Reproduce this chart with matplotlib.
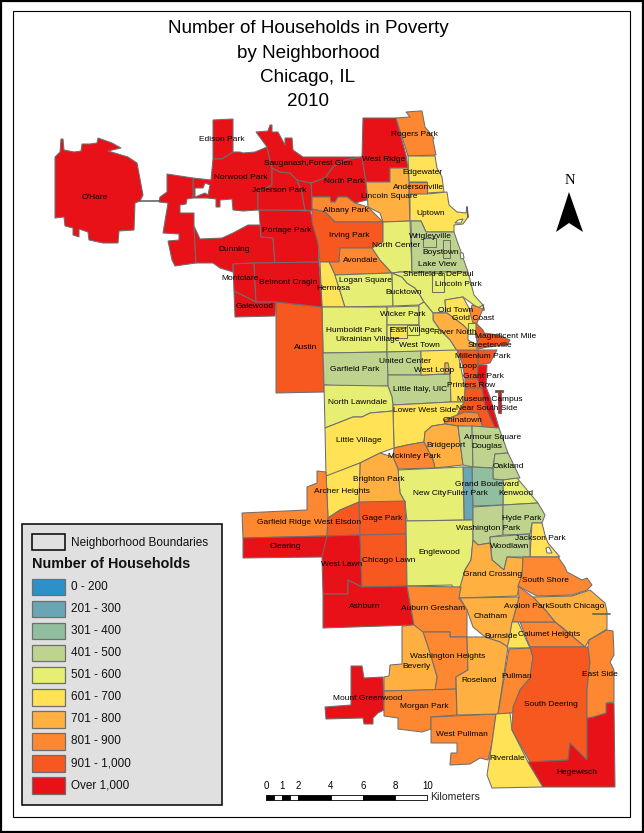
import matplotlib
matplotlib.use("Agg")
import matplotlib.pyplot as plt
from matplotlib.patches import Polygon, Rectangle

plt.rcParams['font.family'] = ['Liberation Sans', 'DejaVu Sans']

title_lines = ["Number of Households in Poverty", "by Neighborhood", "Chicago, IL", "2010"]

class_labels = ["0 - 200", "201 - 300", "301 - 400", "401 - 500", "501 - 600",
                "601 - 700", "701 - 800", "801 - 900", "901 - 1,000", "Over 1,000"]
class_colors = ["#2b91c8", "#6aa5b5", "#92bea0", "#bed48e", "#e6ee73",
                "#ffe255", "#ffb041", "#fe8732", "#f65820", "#e81117"]

# map outlines, one (class, outline) per neighborhood
ohare = (9, [(55, 157), (60, 152), (61, 139), (63, 139), (64, 150), (74, 152), (81, 151), (82, 144), (90, 144),
             (97, 143), (98, 138), (112, 143), (121, 148), (108, 151), (128, 157), (137, 163), (143, 195), (140, 201),
             (135, 203), (134, 230), (119, 231), (118, 243), (103, 243), (89, 240), (88, 232), (79, 229), (79, 237),
             (73, 235), (73, 228), (65, 226), (64, 217), (55, 218), (55, 180)])
edison_park = (9, [(213, 120), (233, 119), (233, 152), (222, 159), (213, 159)])
norwood_park = (9, [(213, 159), (222, 159), (233, 152), (240, 152), (243, 153), (255, 152), (267, 147), (272, 168),
                    (272, 185), (258, 192), (258, 210), (243, 211), (233, 210), (232, 199), (220, 200), (220, 207),
                    (216, 207), (216, 199), (207, 198), (193, 198), (193, 178), (211, 180)])
dunning_west = (9, [(167, 174), (193, 178), (193, 198), (187, 199), (186, 204), (180, 205), (180, 213), (194, 213),
                    (194, 226), (196, 263), (175, 266), (172, 260), (168, 241), (179, 240), (179, 234), (163, 233),
                    (168, 203), (159, 202), (160, 197), (167, 192)])
dunning = (9, [(194, 226), (200, 239), (222, 238), (233, 233), (248, 225), (260, 225), (261, 237), (273, 238),
               (275, 263), (253, 263), (233, 264), (233, 272), (220, 268), (213, 263), (196, 263)])
portage_park = (9, [(259, 210), (285, 210), (310, 211), (318, 235), (319, 262), (275, 263), (273, 238), (261, 237)])
jefferson_park = (9, [(258, 192), (272, 185), (272, 168), (280, 172), (290, 173), (297, 180), (302, 193), (305, 210),
                      (285, 210), (258, 210)])
jefferson_east = (9, [(297, 180), (311, 183), (312, 197), (312, 211), (305, 210), (302, 193)])
sauganash = (9, [(256, 132), (268, 131), (270, 125), (272, 125), (272, 132), (278, 132), (285, 145), (285, 138),
                 (292, 138), (293, 150), (303, 157), (362, 157), (345, 160), (333, 167), (325, 178), (311, 183),
                 (297, 180), (290, 173), (280, 172), (272, 168), (267, 147)])
north_park = (9, [(311, 183), (325, 178), (333, 167), (345, 160), (362, 157), (366, 182), (367, 200), (355, 203),
                  (347, 197), (338, 197), (335, 202), (331, 202), (330, 197), (312, 197)])
west_ridge = (9, [(363, 118), (396, 118), (406, 155), (408, 168), (390, 168), (390, 182), (366, 182), (362, 157)])
rogers_park = (7, [(396, 118), (410, 117), (406, 112), (420, 111), (422, 111), (425, 127), (434, 138), (433, 140),
                   (436, 155), (408, 156)])
edgewater = (5, [(408, 156), (435, 156), (437, 168), (442, 177), (444, 192), (427, 193), (427, 182), (409, 182)])
andersonville = (7, [(409, 182), (427, 182), (427, 194), (409, 194)])
lincoln_square = (6, [(366, 182), (390, 182), (390, 168), (408, 168), (409, 182), (409, 194), (410, 221), (383, 222),
                      (380, 213), (368, 207), (367, 192)])
uptown = (5, [(410, 194), (427, 194), (447, 192), (449, 205), (457, 212), (466, 213), (467, 207), (468, 217), (463, 224),
              (454, 225), (454, 232), (426, 232), (421, 221), (410, 221)])
albany_park = (7, [(312, 197), (330, 197), (331, 202), (335, 202), (338, 197), (347, 197), (355, 203), (368, 207),
                   (383, 222), (335, 222), (325, 212), (312, 209)])
irving_park = (8, [(312, 209), (325, 212), (335, 222), (383, 222), (383, 242), (372, 248), (340, 248), (339, 262),
                   (320, 262), (318, 243), (312, 222)])
avondale = (7, [(340, 248), (372, 248), (380, 260), (392, 273), (335, 275), (329, 262), (339, 262)])
hermosa = (5, [(320, 262), (329, 262), (335, 275), (345, 307), (322, 307)])
logan_square = (4, [(335, 275), (392, 273), (393, 306), (345, 307)])
bucktown = (4, [(392, 273), (402, 277), (407, 283), (415, 288), (420, 295), (424, 302), (419, 305), (393, 306)])
north_center = (4, [(383, 222), (410, 221), (412, 272), (400, 272), (392, 273), (380, 260), (372, 248), (383, 242)])
lake_view = (3, [(411, 221), (421, 221), (426, 232), (454, 232), (468, 272), (412, 272)])
wrigleyville = (3, [(423, 238), (423, 247), (436, 247), (436, 238)])
boystown = (3, [(443, 240), (443, 258), (450, 258), (450, 240)])
lincoln_park = (4, [(412, 272), (468, 272), (474, 295), (483, 305), (478, 308), (463, 297), (445, 300), (446, 312),
                    (433, 313), (424, 302), (420, 295), (415, 288), (407, 283), (402, 277), (392, 273), (400, 272)])
sheffield = (4, [(432, 273), (444, 273), (444, 292), (432, 292)])
old_town = (5, [(445, 300), (463, 297), (470, 310), (475, 323), (468, 330), (463, 325), (447, 313), (446, 312)])
gold_coast = (7, [(472, 305), (478, 307), (483, 309), (477, 323), (473, 323), (470, 313)])
river_north = (6, [(433, 313), (447, 313), (463, 325), (468, 330), (468, 340), (477, 345), (477, 352), (457, 351),
                   (450, 340), (440, 330), (433, 320)])
small_box = (4, [(468, 323), (476, 323), (476, 334), (468, 334)])
magnificent_mile = (8, [(476, 323), (483, 330), (487, 340), (477, 342), (476, 334)])
streeterville = (8, [(484, 333), (498, 335), (510, 340), (507, 345), (488, 347), (478, 349), (477, 342)])
millenium_park = (8, [(478, 350), (497, 350), (490, 363), (478, 365)])
loop = (8, [(457, 350), (478, 350), (478, 365), (477, 378), (465, 378), (462, 363)])
grant_park = (9, [(478, 365), (487, 365), (486, 387), (490, 397), (499, 428), (495, 428), (485, 405), (482, 388), (477, 378)])
printers_row = (8, [(465, 378), (477, 378), (482, 388), (465, 388)])
museum_campus = (9, [(495, 390), (503, 390), (503, 392), (501, 392), (501, 413), (498, 413), (498, 392), (495, 392)])
near_south = (8, [(465, 388), (482, 388), (485, 405), (495, 428), (482, 428), (478, 413), (465, 412), (457, 415), (464, 402)])
chinatown = (7, [(457, 415), (465, 412), (478, 413), (483, 428), (458, 426), (445, 424), (444, 420)])
humboldt_park = (4, [(322, 307), (387, 307), (387, 352), (323, 353)])
wicker_park = (4, [(387, 307), (419, 306), (419, 325), (387, 325)])
east_village = (5, [(390, 327), (407, 327), (407, 338), (390, 338)])
east_box = (4, [(407, 325), (419, 325), (419, 335), (407, 335)])
west_town = (4, [(419, 305), (424, 302), (433, 313), (433, 320), (440, 330), (450, 340), (457, 351), (387, 352),
                 (387, 325), (419, 325)])
austin = (8, [(276, 302), (322, 307), (324, 392), (276, 393)])
montclare = (9, [(233, 264), (254, 263), (256, 302), (234, 291)])
belmont_cragin = (9, [(254, 263), (319, 262), (322, 307), (276, 302), (256, 302)])
galewood = (9, [(234, 291), (256, 302), (276, 302), (275, 316), (235, 317)])
garfield_park = (3, [(323, 353), (387, 352), (388, 375), (388, 386), (358, 387), (324, 385)])
united_center = (3, [(387, 352), (421, 351), (421, 375), (388, 375)])
little_italy = (3, [(388, 375), (421, 375), (450, 374), (451, 402), (393, 405), (392, 397), (388, 386)])
west_loop = (5, [(421, 351), (457, 350), (460, 363), (465, 388), (464, 402), (451, 402), (450, 374), (448, 363),
                 (445, 363), (445, 374), (421, 375)])
west_loop_box = (6, [(445, 363), (448, 363), (450, 374), (445, 374)])
north_lawndale = (4, [(324, 385), (388, 386), (392, 397), (393, 405), (393, 411), (370, 413), (362, 417), (353, 417), (325, 428)])
lower_west = (5, [(393, 405), (451, 402), (464, 402), (457, 415), (444, 420), (445, 424), (432, 426), (425, 432),
                  (424, 442), (407, 445), (394, 448)])
little_village = (5, [(325, 428), (353, 417), (362, 417), (370, 413), (393, 411), (394, 448), (380, 453), (360, 463), (326, 477)])
bridgeport = (6, [(432, 426), (445, 424), (458, 426), (463, 465), (435, 468), (433, 460), (424, 442), (425, 432)])
mckinley_park = (7, [(394, 448), (407, 445), (424, 442), (433, 460), (435, 468), (398, 469), (393, 457)])
armour_square = (3, [(458, 426), (472, 426), (473, 467), (463, 465)])
douglas = (3, [(472, 426), (499, 428), (508, 453), (495, 454), (493, 468), (473, 467)])
oakland = (3, [(495, 454), (508, 453), (520, 478), (503, 480), (493, 479), (493, 468)])
kenwood = (4, [(503, 480), (517, 478), (538, 503), (503, 505)])
grand_boulevard = (2, [(472, 467), (493, 468), (493, 479), (503, 480), (503, 505), (473, 506)])
fuller_park = (1, [(463, 467), (472, 467), (473, 520), (464, 520)])
new_city = (4, [(398, 470), (463, 467), (464, 520), (407, 521), (405, 502), (400, 493)])
brighton_park = (6, [(360, 463), (380, 453), (393, 457), (398, 469), (400, 493), (405, 502), (359, 503)])
archer_heights = (5, [(326, 476), (360, 463), (359, 502), (340, 510), (328, 518)])
garfield_ridge = (7, [(242, 513), (307, 510), (307, 487), (317, 483), (317, 471), (326, 472), (328, 518), (327, 536), (243, 538)])
west_elsdon = (8, [(328, 518), (340, 510), (359, 502), (360, 535), (327, 536)])
gage_park = (8, [(359, 502), (405, 501), (406, 534), (360, 535)])
clearing = (9, [(243, 538), (327, 536), (328, 556), (322, 557), (243, 558)])
west_lawn = (9, [(327, 536), (360, 535), (362, 587), (348, 580), (348, 594), (323, 594), (322, 557)])
chicago_lawn = (8, [(360, 535), (406, 534), (407, 586), (362, 587)])
ashburn = (9, [(348, 580), (362, 587), (407, 586), (414, 625), (323, 628), (323, 594), (348, 594)])
englewood = (4, [(406, 521), (473, 520), (473, 540), (471, 560), (465, 570), (461, 587), (453, 588), (452, 585), (407, 586)])
washington_park = (3, [(473, 507), (503, 505), (503, 535), (490, 537), (490, 543), (478, 545), (473, 540)])
hyde_park = (3, [(503, 505), (538, 503), (545, 515), (542, 523), (532, 523), (530, 534), (503, 535)])
jackson_park = (5, [(532, 523), (542, 523), (545, 535), (548, 543), (560, 557), (530, 557)])
woodlawn = (3, [(490, 537), (530, 534), (530, 557), (507, 557), (504, 570), (492, 560)])
grand_crossing = (6, [(478, 545), (490, 543), (492, 560), (504, 570), (507, 557), (523, 558), (522, 577), (517, 596),
                      (459, 598), (460, 587), (465, 570), (471, 560), (473, 540)])
south_shore = (7, [(523, 557), (558, 557), (565, 567), (567, 572), (582, 580), (587, 578), (592, 585), (587, 590),
                   (572, 595), (537, 596), (518, 586), (522, 575)])
south_chicago = (6, [(533, 597), (572, 596), (590, 590), (605, 603), (607, 612), (607, 629), (589, 640), (585, 647),
                     (563, 628), (555, 622), (547, 612)])
calumet_heights = (7, [(520, 622), (555, 622), (585, 647), (530, 647)])
avalon_park = (7, [(519, 597), (518, 586), (533, 597), (547, 612), (555, 622), (512, 622), (515, 612)])
chatham = (6, [(460, 598), (519, 597), (515, 612), (512, 623), (508, 647), (500, 642), (485, 637), (473, 627), (467, 610)])
auburn_gresham = (7, [(407, 586), (461, 587), (459, 598), (467, 610), (467, 637), (450, 637), (450, 632), (425, 632),
                      (422, 633), (414, 625)])
washington_heights = (7, [(423, 632), (450, 632), (450, 637), (467, 637), (468, 670), (456, 677), (456, 689), (435, 690),
                          (437, 677), (430, 653)])
beverly = (6, [(402, 626), (414, 625), (423, 632), (430, 653), (437, 677), (435, 690), (384, 691), (384, 677), (389, 676),
               (390, 665), (402, 664)])
mount_greenwood = (9, [(351, 666), (362, 666), (364, 678), (383, 677), (384, 710), (378, 713), (373, 718), (373, 724),
                       (364, 724), (363, 718), (326, 719), (325, 707), (351, 705)])
morgan_park = (7, [(384, 691), (456, 689), (457, 715), (431, 717), (431, 729), (422, 732), (398, 729), (398, 718), (384, 716)])
west_pullman = (7, [(431, 717), (496, 714), (492, 743), (488, 760), (480, 758), (470, 764), (450, 765), (451, 753),
                    (457, 753), (457, 743), (431, 743)])
roseland = (6, [(467, 637), (485, 637), (500, 642), (508, 647), (498, 714), (457, 715), (456, 677), (468, 670)])
burnside = (5, [(512, 622), (518, 622), (530, 648), (507, 648), (509, 640)])
pullman = (7, [(509, 649), (530, 648), (533, 657), (530, 678), (520, 690), (512, 713), (498, 714)])
riverdale = (5, [(496, 714), (510, 713), (512, 730), (528, 762), (543, 787), (492, 788), (487, 775), (492, 743)])
south_deering = (8, [(530, 647), (588, 647), (590, 662), (587, 690), (587, 760), (570, 753), (570, 743), (568, 760),
                     (530, 762), (512, 730), (513, 707), (520, 690), (530, 678), (533, 657)])
hegewisch = (9, [(587, 718), (593, 717), (606, 713), (606, 703), (614, 703), (615, 787), (543, 787), (528, 762), (568, 760),
                 (570, 743), (580, 753), (587, 760)])
east_side = (7, [(589, 640), (607, 630), (613, 631), (614, 655), (610, 662), (614, 670), (614, 702), (606, 703), (606, 713),
                 (593, 717), (587, 718), (587, 690), (590, 662), (588, 647)])

neighborhoods = [ohare, edison_park, norwood_park, dunning_west, dunning, portage_park, jefferson_park, jefferson_east,
                 sauganash, north_park, west_ridge, rogers_park, edgewater, lincoln_square, andersonville, uptown,
                 albany_park, irving_park, avondale, hermosa, logan_square, bucktown, north_center, lake_view,
                 wrigleyville, boystown, lincoln_park, sheffield, old_town, river_north, gold_coast, small_box,
                 magnificent_mile, streeterville, millenium_park, loop, printers_row, near_south, chinatown, grant_park,
                 museum_campus, humboldt_park, wicker_park, west_town, east_village, east_box, austin, montclare,
                 belmont_cragin, galewood, garfield_park, united_center, little_italy, west_loop, west_loop_box,
                 north_lawndale, lower_west, little_village, bridgeport, mckinley_park, armour_square, douglas, oakland,
                 kenwood, grand_boulevard, fuller_park, new_city, brighton_park, archer_heights, garfield_ridge,
                 west_elsdon, gage_park, clearing, west_lawn, chicago_lawn, ashburn, englewood, washington_park,
                 hyde_park, jackson_park, woodlawn, grand_crossing, south_shore, south_chicago, calumet_heights,
                 avalon_park, chatham, auburn_gresham, washington_heights, beverly, mount_greenwood, morgan_park,
                 west_pullman, roseland, burnside, pullman, riverdale, south_deering, hegewisch, east_side]

# white gaps inside the map (harbors, the hole near Norwood Park)
gaps = [[(195, 188), (203, 188), (205, 183), (210, 185), (208, 195), (205, 193), (195, 197)],
        [(455, 223), (458, 220), (463, 219), (461, 223)],
        [(460, 253), (463, 253), (464, 258), (461, 259)],
        [(546, 548), (549, 547), (552, 553), (547, 553)]]
stray_lines = [[(140, 201), (160, 201)], [(593, 614), (610, 614)], [(467, 207), (468, 217)], [(483, 305), (484, 310)]]

map_labels = [("O'Hare", 95, 197), ("Edison Park", 222, 139), ("Norwood Park", 241, 177), ("Jefferson Park", 279, 190),
              ("Sauganash,Forest Glen", 308, 163), ("North Park", 344, 181), ("West Ridge", 384, 159),
              ("Rogers Park", 414, 134), ("Edgewater", 422, 172), ("Andersonville", 418, 187),
              ("Lincoln Square", 389, 196), ("Uptown", 431, 213), ("Albany Park", 346, 210), ("Irving Park", 349, 235),
              ("North Center", 396, 245), ("Wrigleyville", 430, 236), ("Boystown", 441, 252), ("Lake View", 437, 265),
              ("Sheffield & DePaul", 438, 275), ("Lincoln Park", 458, 284), ("Avondale", 361, 261),
              ("Logan Square", 365, 280), ("Hermosa", 333, 289), ("Bucktown", 404, 292), ("Portage Park", 287, 230),
              ("Dunning", 234, 249), ("Montclare", 240, 279), ("Belmont Cragin", 288, 283), ("Galewood", 255, 307),
              ("Austin", 306, 347), ("Old Town", 456, 310), ("Gold Coast", 473, 319), ("Wicker Park", 403, 315),
              ("Humboldt Park", 354, 330), ("East Village", 412, 330), ("River North", 455, 332),
              ("Magnificent Mile", 506, 336), ("Ukrainian Village", 368, 339), ("Streeterville", 490, 345),
              ("West Town", 419, 345), ("Millenium Park", 483, 356), ("Garfield Park", 355, 369),
              ("United Center", 405, 361), ("Loop", 468, 366), ("West Loop", 434, 370), ("Grant Park", 483, 376),
              ("Little Italy, UIC", 420, 389), ("Printers Row", 471, 385), ("North Lawndale", 358, 402),
              ("Museum Campus", 490, 399), ("Near South Side", 487, 408), ("Lower West Side", 425, 410),
              ("Chinatown", 463, 420), ("Little Village", 359, 440), ("Armour Square", 493, 437), ("Douglas", 487, 446),
              ("Bridgeport", 446, 445), ("Mckinley Park", 414, 456), ("Oakland", 508, 466), ("Brighton Park", 379, 479),
              ("Grand Boulevard", 487, 484), ("Archer Heights", 342, 491), ("New City", 430, 493),
              ("Fuller Park", 467, 493), ("Kenwood", 516, 493), ("Hyde Park", 522, 518), ("Gage Park", 382, 518),
              ("Garfield Ridge", 284, 523), ("West Elsdon", 338, 523), ("Washington Park", 488, 528),
              ("Jackson Park", 540, 538), ("Woodlawn", 510, 547), ("Clearing", 285, 547), ("Englewood", 439, 552),
              ("Chicago Lawn", 389, 560), ("West Lawn", 342, 565), ("Grand Crossing", 493, 575), ("South Shore", 545, 581),
              ("Auburn Gresham", 433, 609), ("Ashburn", 365, 607), ("Avalon Park", 527, 607), ("South Chicago", 577, 607),
              ("Chatham", 491, 616), ("Burnside", 501, 637), ("Calumet Heights", 549, 635),
              ("Washington Heights", 448, 657), ("Beverly", 417, 667), ("Pullman", 517, 677), ("Roseland", 479, 681),
              ("East Side", 600, 674), ("Mount Greenwood", 368, 698), ("South Deering", 551, 704),
              ("Morgan Park", 424, 707), ("West Pullman", 462, 735), ("Riverdale", 507, 759), ("Hegewisch", 577, 772)]

scale_ticks = [0, 1, 2, 4, 6, 8, 10]
scale_edges = [0, 0.5, 1, 1.5, 2, 4, 6, 8, 10]

edge = "#6e6e6e"

fig = plt.figure(figsize=(6.44, 8.33), dpi=100)
ax = fig.add_axes([0, 0, 1, 1])
ax.set_xlim(0, 644)
ax.set_ylim(833, 0)
ax.axis("off")

# outer edge of the page and the inner neatline
ax.add_patch(Rectangle((0.5, 0.5), 642.5, 831.5, fc="white", ec="black", lw=1.6, zorder=0))
ax.add_patch(Rectangle((13.5, 10.5), 617, 306.5 + 500, fc="none", ec="black", lw=0.8, zorder=1))

for line, y in zip(title_lines, [28, 53, 77, 101]):
    ax.text(308, y, line, fontsize=13.6, ha="center", va="center", color="black")

for cls, outline in neighborhoods:
    ax.add_patch(Polygon(outline, closed=True, fc=class_colors[cls], ec=edge, lw=0.75, zorder=2))
for outline in gaps:
    ax.add_patch(Polygon(outline, closed=True, fc="white", ec=edge, lw=0.75, zorder=3))
for seg in stray_lines:
    ax.plot([p[0] for p in seg], [p[1] for p in seg], color="#5a5a5a", lw=1.1, zorder=3)

for name, x, y in map_labels:
    ax.text(x, y, name, fontsize=6.05, ha="center", va="center", color="black", zorder=5)

# north arrow
ax.text(570, 180, "N", fontsize=10.5, family="Liberation Serif", ha="center", va="center")
ax.add_patch(Polygon([(569, 192), (583, 232), (569, 223), (556, 232)], closed=True, fc="black", ec="none"))

# scale bar, 0 km at x=266 and 16.15 px per km
km_x = lambda km: 266 + 16.15 * km
for i in range(len(scale_edges) - 1):
    x0, x1 = km_x(scale_edges[i]), km_x(scale_edges[i + 1])
    ax.add_patch(Rectangle((x0, 795), x1 - x0, 5, fc="black" if i % 2 == 0 else "white", ec="black", lw=0.6))
for km in scale_ticks:
    ax.text(km_x(km), 786, str(km), fontsize=7, ha="center", va="center")
ax.text(430, 797, "Kilometers", fontsize=7.6, ha="left", va="center", color="#222222")

# legend
ax.add_patch(Rectangle((22, 524), 200, 281, fc="#e0e0e0", ec="black", lw=1.1, zorder=1))
ax.add_patch(Rectangle((32, 534), 33, 16, fc="#e0e0e0", ec="black", lw=1.1, zorder=2))
ax.text(71, 543, "Neighborhood Boundaries", fontsize=8.5, ha="left", va="center", color="#111111")
ax.text(32, 564, "Number of Households", fontsize=10.4, fontweight="bold", ha="left", va="center", color="#111111")
for i, (lab, col) in enumerate(zip(class_labels, class_colors)):
    y = 578.5 + i * 22.1
    ax.add_patch(Rectangle((32, y), 33, 16.5, fc=col, ec=edge, lw=0.9, zorder=2))
    ax.text(71, y + 8, lab, fontsize=8.5, ha="left", va="center", color="#111111")

fig.savefig("out.png", dpi=100)
